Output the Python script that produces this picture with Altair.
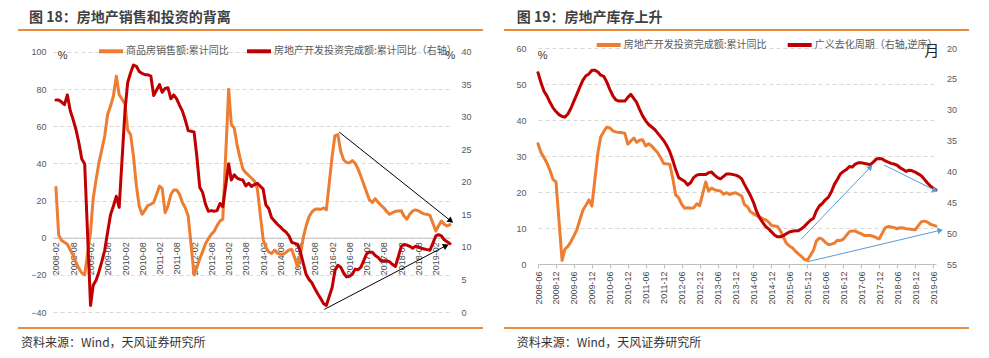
import altair as alt
import pandas as pd

# ---------------- data ----------------
NAME_SALES = "商品房销售额:累计同比"
NAME_INV_L = "房地产开发投资完成额:累计同比（右轴）"
NAME_INV_R = "房地产开发投资完成额:累计同比"
NAME_DESTOCK = "广义去化周期（右轴,逆序）"

# monthly points Feb..Dec (Jan-Feb cumulative reported in Feb), 2008-02 .. 2019-07
left_dates = [f"{y}/{m:02d}/01" for y in range(2008, 2020) for m in range(2, 13)
              if not (y == 2019 and m > 7)]

sales = [
    27.0, 1.5, -1.5, -2.5, -3.5, -6.5, -9.5, -13.5, -16.5, -19.0, -20.0,   # 2008
    3.0, 21.0, 31.4, 40.4, 47.6, 54.8, 66.4, 71.0, 76.3, 87.0, 77.0,       # 2009
    72.0, 58.0, 55.5, 44.0, 28.0, 17.0, 12.6, 15.0, 17.4, 18.0, 19.0,      # 2010
    27.8, 26.5, 13.5, 17.0, 23.3, 25.7, 25.7, 23.3, 18.9, 16.0, 11.7,      # 2011
    -20.0, -16.0, -11.5, -7.5, -3.2, -0.5, 1.8, 3.5, 6.5, 9.0, 10.0,       # 2012
    80.0, 61.0, 59.0, 50.0, 43.0, 37.0, 35.0, 33.5, 32.0, 30.5, 26.5,      # 2013
    -1.0, -5.2, -7.7, -8.5, -6.7, -8.3, -8.9, -8.9, -7.8, -6.6, -6.3,      # 2014
    -15.8, -9.3, 0.0, 6.3, 11.3, 13.8, 15.3, 15.4, 15.3, 16.0, 15.0,       # 2015
    44.0, 55.0, 55.5, 46.5, 42.0, 40.5, 40.3, 41.5, 40.0, 37.0, 33.0,      # 2016
    24.2, 20.3, 19.0, 21.0, 19.0, 17.5, 16.0, 14.0, 12.6, 13.5, 14.2,      # 2017
    14.5, 11.7, 10.0, 12.6, 14.4, 15.0, 14.5, 13.5, 12.8, 12.6, 12.0,      # 2018
    3.6, 6.3, 9.0, 7.2, 6.3, 7.0,                                          # 2019
]

invest = [
    32.6, 32.6, 32.3, 31.9, 33.4, 31.0, 29.6, 28.0, 26.0, 23.5, 22.8,      # 2008
    1.0, 4.1, 4.9, 6.2, 7.8, 9.5, 12.3, 15.0, 16.3, 17.8, 16.1,            # 2009
    31.1, 35.3, 36.8, 38.0, 37.8, 37.0, 36.7, 36.5, 36.5, 36.3, 33.3,      # 2010
    35.0, 33.8, 34.4, 34.5, 32.8, 33.4, 32.8, 31.8, 30.9, 29.5, 27.9,      # 2011
    27.7, 24.0, 19.2, 18.4, 16.6, 15.5, 15.6, 15.5, 15.6, 16.7, 16.2,      # 2012
    22.8, 20.3, 21.1, 20.6, 20.4, 20.3, 19.4, 19.8, 19.3, 19.6, 19.8,      # 2013
    18.9, 16.5, 15.9, 14.5, 14.0, 13.5, 13.1, 12.6, 12.3, 11.7, 10.7,      # 2014
    10.4, 9.3, 7.5, 5.8, 5.0, 4.5, 3.6, 2.8, 2.1, 1.3, 1.0,                # 2015
    3.8, 6.4, 7.2, 6.9, 6.0, 5.4, 5.5, 5.8, 6.6, 6.5, 6.9,                 # 2016
    9.0, 9.2, 9.2, 8.7, 8.4, 7.9, 7.9, 7.9, 7.7, 7.3, 7.0,                 # 2017
    10.1, 10.4, 10.3, 10.1, 9.8, 10.1, 10.0, 9.8, 9.7, 9.6, 9.5,           # 2018
    11.7, 11.9, 11.7, 11.1, 10.8, 10.5,                                    # 2019
]

# broad destocking cycle (months), every month 2008-06 .. 2019-07
destock_dates = [f"{y}/{m:02d}/01" for y in range(2008, 2020) for m in range(1, 13)
                 if (y, m) >= (2008, 6) and (y, m) <= (2019, 7)]
destock = [
    24.0, 25.6, 27.0, 27.8, 28.8, 29.7, 30.3,                                   # 2008
    30.8, 31.1, 31.2, 30.7, 29.8, 28.6, 27.5, 26.3, 25.2, 24.5, 24.2, 23.6,     # 2009
    23.6, 23.9, 24.4, 24.6, 25.5, 26.7, 27.7, 28.4, 28.6, 28.6, 28.6, 28.0,     # 2010
    27.5, 28.2, 28.8, 30.0, 31.0, 31.8, 32.4, 32.8, 33.2, 33.8, 34.4, 35.0,     # 2011
    35.8, 36.8, 38.1, 39.7, 41.0, 41.3, 41.6, 42.2, 41.8, 41.0, 40.6, 40.5,     # 2012
    40.5, 40.5, 40.2, 40.1, 40.6, 41.0, 41.2, 40.8, 40.4, 40.4, 40.5, 40.6,     # 2013
    40.8, 41.2, 42.1, 43.0, 43.9, 45.0, 46.4, 47.5, 48.2, 48.9, 49.3, 49.8,     # 2014
    50.3, 50.6, 50.6, 50.4, 50.1, 49.8, 49.7, 49.6, 49.6, 49.3, 48.9, 48.4,     # 2015
    47.9, 47.6, 46.4, 45.6, 45.2, 44.6, 44.2, 43.3, 42.1, 41.3, 40.4, 40.0,     # 2016
    39.7, 39.2, 39.3, 38.8, 38.6, 38.6, 38.7, 38.8, 38.9, 38.5, 38.0, 37.9,     # 2017
    38.0, 38.3, 38.5, 38.7, 38.8, 39.0, 39.4, 39.7, 40.0, 39.8, 39.9, 40.1,     # 2018
    40.4, 40.7, 41.2, 41.8, 42.3, 42.7, 43.0,                                   # 2019
]

# annotation arrows (start, end)
arrow_sales_d = ["2016/04/15", "2019/07/10"]
arrow_sales_v = [56.9, 9.0]
arrow_inv_d = ["2015/11/10", "2019/05/20"]
arrow_inv_v = [0.4, 10.2]
arrowA_d = ["2015/09/28", "2017/09/03"]
arrowA_v = [51.0, 39.3]
arrowB_d = ["2018/01/18", "2019/06/21"]
arrowB_v = [38.96, 43.06]
arrowC_d = ["2015/12/06", "2019/08/13"]
arrowC_v = [0.64, 9.36]

TITLE_L = "图 18：房地产销售和投资的背离"
TITLE_R = "图 19：房地产库存上升"
SOURCE = "资料来源：Wind，天风证券研究所"

# ---------------- style ----------------
ORANGE = "#ED7D31"
RED = "#C00000"
BLUE = "#5B9BD5"
RULE = "#E98B3F"
GRID = "#D9D9D9"
AX = "#595959"
CJK = "Noto Sans CJK SC"
NUM = "Liberation Sans"

W1, H1 = 397, 264
W2, H2 = 398, 216


def dt(y, m, d=1):
    return alt.DateTime(year=y, month=m, date=d)


def text_layer(txt, x, y, size, color, weight="normal", font=CJK, align="left", baseline="alphabetic"):
    return alt.Chart(pd.DataFrame({"t": [txt]})).mark_text(
        font=font, fontSize=size, color=color, fontWeight=weight, align=align, baseline=baseline
    ).encode(x=alt.value(x), y=alt.value(y), text="t:N")


def rule_layer(x1, x2, y, color, width):
    return alt.Chart(pd.DataFrame({"k": [0]})).mark_rule(color=color, strokeWidth=width).encode(
        x=alt.value(x1), x2=alt.value(x2), y=alt.value(y))


def arrow_layers(d, v, field, xenc, yenc, color, angle, size):
    df = pd.DataFrame({"d": d, field: v})
    line = alt.Chart(df).mark_line(color=color, strokeWidth=1).encode(x=xenc, y=yenc)
    head = alt.Chart(df.iloc[[1]]).mark_point(
        shape="triangle-right", filled=True, color=color, opacity=1, size=size, angle=angle
    ).encode(x=xenc, y=yenc)
    return [line, head]


# ---------------- left panel ----------------
xL = alt.X("d:T", scale=alt.Scale(domain=[dt(2008, 1), dt(2019, 7)]),
           axis=alt.Axis(values=[dt(y, m) for y in range(2008, 2020) for m in (2, 8) if (y, m) <= (2019, 2)],
                         format="%Y-%m", labelAngle=270, labelFont=NUM, labelFontSize=9, labelColor="#4A4A4A",
                         labelPadding=4, domainColor="#BFBFBF", domainWidth=1, ticks=False, grid=False,
                         title=None, offset=-74.3, labelOverlap=False, labelFlush=False, labelBound=False))
yL = alt.Y("v:Q", scale=alt.Scale(domain=[-40, 102.15], nice=False, zero=False),
           axis=alt.Axis(values=[-40, -20, 0, 20, 40, 60, 80, 100], orient="left", labelFont=NUM,
                         labelFontSize=9, labelColor=AX, labelPadding=7, ticks=False, domain=False,
                         grid=True, gridColor=GRID, gridDash=[4, 3], gridWidth=1, title=None))
yR = alt.Y("w:Q", scale=alt.Scale(domain=[0, 40.615], nice=False, zero=False),
           axis=alt.Axis(values=[0, 5, 10, 15, 20, 25, 30, 35, 40], orient="right", labelFont=NUM,
                         labelFontSize=9, labelColor=AX, labelPadding=11, ticks=False, domain=False,
                         grid=False, title=None))

cL_scale = alt.Scale(domain=[NAME_SALES, NAME_INV_L], range=[ORANGE, RED])
legL = alt.Legend(orient="none", legendX=44, legendY=-10.7, direction="horizontal", title=None,
                  symbolType="stroke", symbolStrokeWidth=4, symbolSize=576, labelFont=CJK,
                  labelFontSize=10, labelColor=AX, labelLimit=400, labelOffset=1, columnPadding=10,
                  padding=0)
cL = alt.Color("s:N", scale=cL_scale, legend=legL)

sales_df = pd.DataFrame({"d": left_dates, "v": sales, "s": NAME_SALES})
inv_df = pd.DataFrame({"d": left_dates, "w": invest, "s": NAME_INV_L})

sales_line = alt.Chart(sales_df).mark_line(strokeWidth=3, strokeJoin="round", strokeCap="round").encode(
    x=xL, y=yL, color=cL)
inv_line = alt.Chart(inv_df).mark_line(strokeWidth=3, strokeJoin="round", strokeCap="round").encode(
    x=xL, y=yR, color=cL)

left_group = alt.layer(sales_line, *arrow_layers(arrow_sales_d, arrow_sales_v, "v", xL, yL, "black", 38.5, 45))
right_group = alt.layer(inv_line, *arrow_layers(arrow_inv_d, arrow_inv_v, "w", xL, yR, "black", 333, 45))

deco_L = [
    rule_layer(-44, -43.9, -39, "white", 0.1),              # layout anchor (page corner)
    text_layer(TITLE_L, -24, -26, 14, "#404040", weight="bold"),
    rule_layer(-35, 430, -18, RULE, 2),
    rule_layer(-35, 430, 280, RULE, 2),
    text_layer(SOURCE, -32, 295, 12, "#333333", baseline="middle"),
    text_layer("%", 9.7, 8, 11, "#333333", font=NUM, align="center", baseline="middle"),
    text_layer("%", 397.3, 8, 11, "#333333", font=NUM, align="center", baseline="middle"),
]

left_chart = alt.layer(left_group, right_group, *deco_L).resolve_scale(y="independent").properties(
    width=W1, height=H1)

# ---------------- right panel ----------------
xR = alt.X("d:T", scale=alt.Scale(domain=[dt(2008, 6), dt(2019, 7)]),
           axis=alt.Axis(values=[dt(y, m) for y in range(2008, 2020) for m in (6, 12) if (y, m) <= (2019, 6)],
                         format="%Y-%m", labelAngle=270, labelFont=NUM, labelFontSize=9, labelColor="#4A4A4A",
                         labelPadding=3, domainColor="#BFBFBF", domainWidth=1, ticks=True, tickSize=4,
                         tickColor="#BFBFBF", grid=False, title=None, labelOverlap=False,
                         labelFlush=False, labelBound=False))
y2L = alt.Y("v:Q", scale=alt.Scale(domain=[0, 60], nice=False, zero=False),
            axis=alt.Axis(values=[0, 10, 20, 30, 40, 50, 60], orient="left", labelFont=NUM,
                          labelFontSize=9, labelColor=AX, labelPadding=12, ticks=False, domain=False,
                          grid=True, gridColor=GRID, gridDash=[4, 3], gridWidth=1, title=None))
y2R = alt.Y("w:Q", scale=alt.Scale(domain=[20, 55], reverse=True, nice=False, zero=False),
            axis=alt.Axis(values=[20, 25, 30, 35, 40, 45, 50, 55], orient="right", labelFont=NUM,
                          labelFontSize=9, labelColor=AX, labelPadding=10.5, ticks=False, domain=False,
                          grid=False, title=None))

cR_scale = alt.Scale(domain=[NAME_INV_R, NAME_DESTOCK], range=[ORANGE, RED])
legR = alt.Legend(orient="none", legendX=56.7, legendY=-17, direction="horizontal", title=None,
                  symbolType="stroke", symbolStrokeWidth=4, symbolSize=576, labelFont=CJK,
                  labelFontSize=10, labelColor=AX, labelLimit=400, labelOffset=1, columnPadding=13,
                  padding=0)
cR = alt.Color("s:N", scale=cR_scale, legend=legR)

inv2_df = pd.DataFrame({"d": left_dates[4:], "v": invest[4:], "s": NAME_INV_R})
dest_df = pd.DataFrame({"d": destock_dates, "w": destock, "s": NAME_DESTOCK})

inv2_line = alt.Chart(inv2_df).mark_line(strokeWidth=3, strokeJoin="round", strokeCap="round").encode(
    x=xR, y=y2L, color=cR)
dest_line = alt.Chart(dest_df).mark_line(strokeWidth=3, strokeJoin="round", strokeCap="round").encode(
    x=xR, y=y2R, color=cR)

left_group2 = alt.layer(inv2_line, *arrow_layers(arrowC_d, arrowC_v, "v", xR, y2L, BLUE, 346.7, 40))
right_group2 = alt.layer(dest_line,
                         *arrow_layers(arrowA_d, arrowA_v, "w", xR, y2R, BLUE, 313.8, 40),
                         *arrow_layers(arrowB_d, arrowB_v, "w", xR, y2R, BLUE, 26.3, 40))

deco_R = [
    text_layer(TITLE_R, -21.3, -26, 14, "#404040", weight="bold"),
    rule_layer(-34, 431, -18, RULE, 2),
    rule_layer(-34, 431, 280, RULE, 2),
    text_layer(SOURCE, -21.3, 295, 12, "#333333", baseline="middle"),
    text_layer("%", 4.7, 8, 11, "#333333", font=NUM, align="center", baseline="middle"),
    text_layer("月", 393.7, 3, 15, "#222222", align="center", baseline="middle"),
]

right_chart = alt.layer(left_group2, right_group2, *deco_R).resolve_scale(y="independent").properties(
    width=W2, height=H2)

chart = alt.hconcat(left_chart, right_chart, spacing=88, bounds="flush").resolve_scale(
    color="independent").properties(padding=0, background="white").configure_view(stroke=None)

chart.save("out.html", embed_options={"renderer": "svg", "actions": False})
